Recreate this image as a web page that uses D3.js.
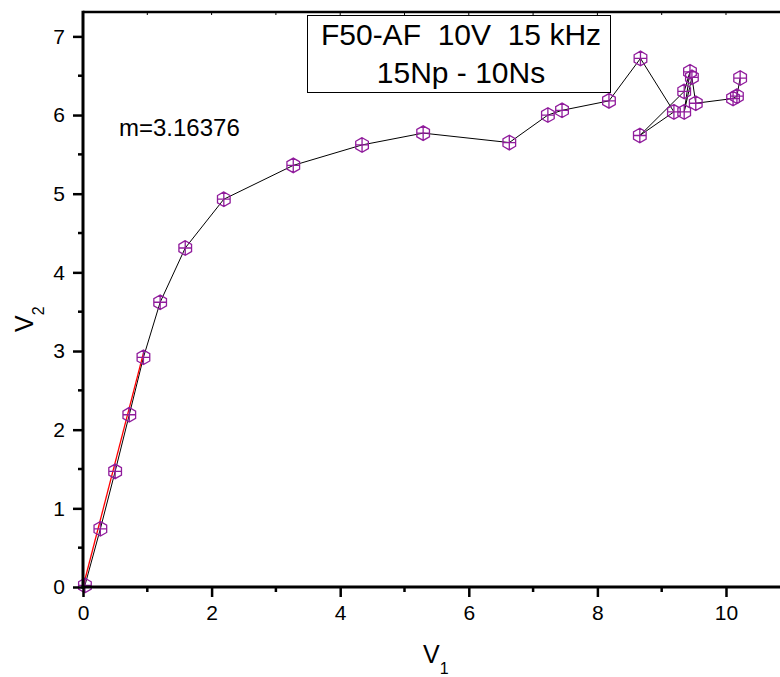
<!DOCTYPE html>
<html>
<head>
<meta charset="utf-8">
<script src="https://cdn.jsdelivr.net/npm/d3@7"></script>
<style>
  body { margin: 0; background: #fff; }
  svg { display: block; font-family: "Liberation Sans", Arial, sans-serif; }
  .title { white-space: pre; }
</style>
</head>
<body>
<div id="my_dataviz"></div>
<script>
// measured points (V1 -> V2), in measurement order
const v1 = [0.03, 0.27, 0.50, 0.72, 0.94, 1.20, 1.59, 2.19, 3.27, 4.34, 5.29, 6.63, 7.23, 7.45, 8.18, 8.67, 9.19, 8.66, 9.35, 9.44, 9.35, 9.47, 9.53, 10.11, 10.17, 10.22]
const v2 = [0.02, 0.74, 1.47, 2.19, 2.92, 3.62, 4.31, 4.93, 5.36, 5.62, 5.77, 5.65, 6.00, 6.06, 6.18, 6.72, 6.04, 5.74, 6.30, 6.55, 6.04, 6.48, 6.15, 6.21, 6.24, 6.47]

// linear fit of the first points
const slope = 3.16376
const fitX = [0, 0.94]

const xTicks = [0, 2, 4, 6, 8, 10]
const yTicks = [0, 1, 2, 3, 4, 5, 6, 7]
const titleLines = ["F50-AF  10V  15 kHz", "15Np - 10Ns"]

const W = 780, H = 677
const margin = {top: 12, left: 83, bottom: 90}
const markColor = "#901c9c"

const svg = d3.select("#my_dataviz")
  .append("svg")
  .attr("width", W)
  .attr("height", H)

const x = d3.scaleLinear().domain([0, 10.84]).range([margin.left, W])
const y = d3.scaleLinear().domain([0, 7.31]).range([H - margin.bottom, margin.top])

const data = v1.map((d, i) => ({x: d, y: v2[i]}))

// connecting line
const line = d3.line().x(d => x(d.x)).y(d => y(d.y))
svg.append("path")
  .datum(data)
  .attr("fill", "none")
  .attr("stroke", "#000")
  .attr("stroke-width", 1)
  .attr("d", line)

// fit line
svg.append("path")
  .datum(fitX.map(d => ({x: d, y: d * slope})))
  .attr("fill", "none")
  .attr("stroke", "#ff0000")
  .attr("stroke-width", 1.3)
  .attr("d", line)

// hexagon markers with a cross
function hexPath(r) {
  let p = ""
  for (let k = 0; k < 6; k++) {
    const a = Math.PI / 2 + k * Math.PI / 3
    p += (k ? "L" : "M") + (r * Math.cos(a)).toFixed(2) + "," + (-r * Math.sin(a)).toFixed(2)
  }
  const hw = r * Math.sqrt(3) / 2
  return p + "Z M" + (-hw) + ",0 L" + hw + ",0 M0," + (-r) + " L0," + r
}
svg.append("g")
  .selectAll("path")
  .data(data)
  .join("path")
  .attr("transform", d => `translate(${x(d.x)},${y(d.y)})`)
  .attr("d", hexPath(7.3))
  .attr("fill", "none")
  .attr("stroke", markColor)
  .attr("stroke-width", 1.3)

// axes
const x0 = x(0), y0 = y(0)

const xAxis = d3.axisBottom(x).tickValues(xTicks).tickFormat(d3.format("d")).tickSize(10).tickPadding(8)
const gx = svg.append("g").attr("transform", `translate(0,${y0})`).call(xAxis)
gx.select(".domain").remove()
gx.selectAll(".tick line").attr("stroke-width", 2.5)
gx.selectAll("text").attr("font-size", 21).attr("fill", "#000").attr("font-family", "Liberation Sans, Arial, sans-serif")
// minor x ticks
svg.append("g").selectAll("line")
  .data(d3.range(1, 11, 2))
  .join("line")
  .attr("x1", d => x(d)).attr("x2", d => x(d))
  .attr("y1", y0).attr("y2", y0 + 5)
  .attr("stroke", "#000").attr("stroke-width", 2.5)

const yAxis = d3.axisLeft(y).tickValues(yTicks).tickFormat(d3.format("d")).tickSize(10).tickPadding(8)
const gy = svg.append("g").attr("transform", `translate(${x0},0)`).call(yAxis)
gy.select(".domain").remove()
gy.selectAll(".tick line").attr("stroke-width", 2.5)
gy.selectAll("text").attr("font-size", 21).attr("fill", "#000").attr("font-family", "Liberation Sans, Arial, sans-serif")
// minor y ticks
svg.append("g").selectAll("line")
  .data(d3.range(0.5, 7, 1))
  .join("line")
  .attr("x1", x0 - 5).attr("x2", x0)
  .attr("y1", d => y(d)).attr("y2", d => y(d))
  .attr("stroke", "#000").attr("stroke-width", 2.5)

// top frame with small inward ticks
svg.append("g").selectAll("line")
  .data(d3.range(1, 11))
  .join("line")
  .attr("x1", d => x(d)).attr("x2", d => x(d))
  .attr("y1", margin.top).attr("y2", margin.top + 3)
  .attr("stroke", "#000").attr("stroke-width", 1)
svg.append("line")
  .attr("x1", x0).attr("x2", W)
  .attr("y1", margin.top).attr("y2", margin.top)
  .attr("stroke", "#000").attr("stroke-width", 2.5)

// axis lines
svg.append("line")
  .attr("x1", x0 - 1.5).attr("x2", W)
  .attr("y1", y0).attr("y2", y0)
  .attr("stroke", "#000").attr("stroke-width", 3)
svg.append("line")
  .attr("x1", x0).attr("x2", x0)
  .attr("y1", margin.top - 1.2).attr("y2", y0 + 1.5)
  .attr("stroke", "#000").attr("stroke-width", 3)

// axis titles
const xl = svg.append("text")
  .attr("x", 423).attr("y", 663)
  .attr("font-size", 25)
xl.append("tspan").text("V")
xl.append("tspan").attr("font-size", 16).attr("dy", 11).text("1")

const yl = svg.append("text")
  .attr("transform", "translate(33,332) rotate(-90)")
  .attr("font-size", 25)
yl.append("tspan").text("V")
yl.append("tspan").attr("font-size", 16).attr("dy", 11).text("2")

// slope annotation
svg.append("text")
  .attr("x", 119).attr("y", 136)
  .attr("font-size", 24)
  .text("m=" + slope)

// title box
svg.append("rect")
  .attr("x", 307.5).attr("y", 15.5)
  .attr("width", 303).attr("height", 77)
  .attr("fill", "#fff")
  .attr("stroke", "#000")
  .attr("stroke-width", 1)
svg.append("g").selectAll("text")
  .data(titleLines)
  .join("text")
  .attr("class", "title")
  .attr("x", 461)
  .attr("y", (d, i) => 45 + i * 38)
  .attr("text-anchor", "middle")
  .attr("font-size", 30)
  .text(d => d)
</script>
</body>
</html>
